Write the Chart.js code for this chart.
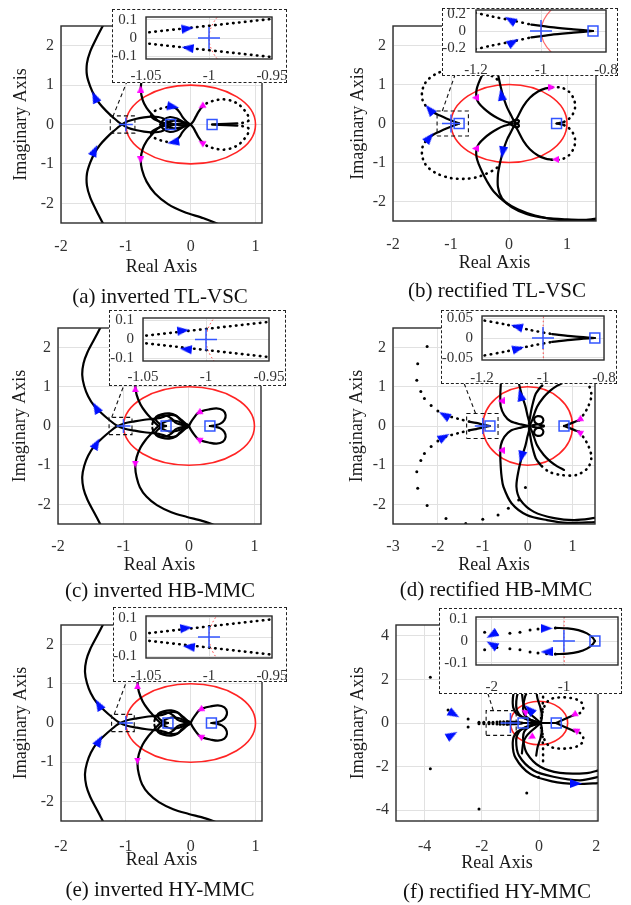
<!DOCTYPE html>
<html>
<head>
<meta charset="utf-8">
<title>Nyquist plots</title>
<script src="https://cdn.jsdelivr.net/npm/chart.js@4.4.1/dist/chart.umd.min.js"></script>
<style>
  html, body { margin: 0; padding: 0; background: #fff; }
  body { position: relative; width: 631px; height: 905px; overflow: hidden; font-family: 'Liberation Serif', 'Times New Roman', serif; }
  canvas { position: absolute; }
  .zoombox { position: absolute; box-sizing: border-box; background: #fff; border: 1px dashed #222; }
  .caption { position: absolute; font-size: 21px; line-height: 1; color: #111; white-space: nowrap; transform: translate(-50%, -50%); }
</style>
</head>
<body>
<script>
// Nyquist loci. Each curve is listed for one sign of frequency and is
// drawn together with its mirror image about the real axis.
const UNIT_RADIUS = 1;

// tick values
const realTicks = [-2, -1, 0, 1];
const realTicksWide = [-3, -2, -1, 0, 1];
const realTicksHY = [-4, -2, 0, 2];
const imagTicks = [-2, -1, 0, 1, 2];
const imagTicksHY = [-4, -2, 0, 2, 4];
const zoomRealNarrow = [-1.05, -1, -0.95];
const zoomRealWide = [-1.2, -1, -0.8];
const zoomRealHY = [-2, -1];
const zoomImag01 = [-0.1, 0, 0.1];
const zoomImag02 = [-0.2, 0, 0.2];
const zoomImag005 = [-0.05, 0, 0.05];

// ---- (a) inverted TL-VSC ----
const aOuter = [[-1.34,2.55],[-1.45,2.2],[-1.55,1.85],[-1.6,1.55],[-1.6,1.25],[-1.55,0.97],[-1.48,0.72],[-1.4,0.52],[-1.3,0.34],[-1.19,0.17],[-1.08,0.02],[-0.97,-0.08],[-0.85,-0.14],[-0.72,-0.18],[-0.6,-0.2],[-0.5,-0.19],[-0.42,-0.15],[-0.36,-0.08],[-0.28,-0.02],[-0.15,0.02],[-0.05,0.01],[0,0]];
const aMagenta = [[0.46,-2.55],[0.2,-2.38],[-0.1,-2.22],[-0.35,-2.02],[-0.55,-1.75],[-0.68,-1.45],[-0.75,-1.15],[-0.77,-0.88],[-0.74,-0.62],[-0.68,-0.42],[-0.6,-0.26],[-0.52,-0.12],[-0.44,-0.02],[-0.36,0.06],[-0.26,0.1],[-0.16,0.08],[-0.07,0.03],[0,0]];
const aLoopIn = [[-0.31,0],[-0.42,0.04],[-0.52,0.1],[-0.59,0.17],[-0.61,0.23]];
const aLoopDots = [[-0.61,0.23],[-0.58,0.31],[-0.52,0.37],[-0.45,0.41],[-0.37,0.44],[-0.29,0.45]];
const aLoopOut = [[-0.29,0.45],[-0.22,0.4],[-0.17,0.31],[-0.13,0.2],[-0.08,0.1],[-0.03,0.03],[0,0]];
const aKnot = [[-0.47,0],[-0.42,0.12],[-0.32,0.19],[-0.21,0.15],[-0.12,0.07],[-0.05,0.02],[0,0]];
const aRightIn = [[0,0],[0.04,0.08],[0.08,0.2],[0.12,0.32],[0.17,0.44]];
const aRightDots = [[0.17,0.44],[0.26,0.55],[0.37,0.61],[0.5,0.64],[0.63,0.6],[0.74,0.51],[0.82,0.38],[0.88,0.24],[0.9,0.12],[0.86,0.06],[0.79,0.04],[0.72,0.03]];
const aRightOut = [[0.72,0.03],[0.55,0.015],[0.33,0]];
const aSquares = [[-0.31,0],[0.33,0]];
const aBlue = [[-1.48,0.7],[-1.48,-0.66],[-0.27,0.45],[-0.27,-0.45]];
const aBlueTurn = [335, 25, 100, 260];
const aPink = [[-0.77,0.9],[-0.77,-0.9],[0.17,0.46],[0.17,-0.46]];
const aPinkTurn = [0, 180, 240, 300];
const aZoomBox = [[-1.24,-0.22],[-0.86,0.22]];
const aLeader = [[-1.2,0.2],[-0.98,1.1]];
const aInsetLine = [[-1.052,0.028],[-0.948,0.106]];
const aInsetBlue = [[-1.017,0.052],[-1.017,-0.054]];
const aInsetTurn = [83, 277];

// ---- (b) rectified TL-VSC ----
const bLeftIn = [[-0.86,0],[-0.95,0.05],[-1.08,0.13],[-1.2,0.21],[-1.3,0.28],[-1.37,0.35]];
const bLeftDots = [[-1.37,0.35],[-1.44,0.46],[-1.49,0.6],[-1.5,0.8],[-1.46,1.0],[-1.38,1.15],[-1.22,1.3],[-1.0,1.4],[-0.78,1.42],[-0.56,1.38],[-0.38,1.28],[-0.25,1.18],[-0.18,1.1]];
const bLobe = [[0.06,0],[-0.08,-0.06],[-0.2,-0.14],[-0.32,-0.25],[-0.43,-0.38],[-0.52,-0.52],[-0.56,-0.66],[-0.56,-0.86],[-0.52,-1.05],[-0.46,-1.25],[-0.38,-1.48],[-0.26,-1.75],[-0.08,-2.0],[0.15,-2.2],[0.45,-2.36],[0.8,-2.46],[1.15,-2.5],[1.55,-2.46]];
const bStem = [[0.1,-0.02],[0.04,-0.2],[-0.03,-0.4],[-0.08,-0.6],[-0.12,-0.8],[-0.16,-1.05],[-0.19,-1.3],[-0.19,-1.63],[-0.12,-1.92],[0.05,-2.15],[0.3,-2.32],[0.62,-2.42],[1.0,-2.46],[1.3,-2.47],[1.55,-2.43]];
const bRightIn = [[0.1,0.03],[0.16,0.2],[0.25,0.45],[0.36,0.66],[0.5,0.82],[0.63,0.9],[0.74,0.93]];
const bRightDots = [[0.74,0.93],[0.9,0.92],[1.03,0.82],[1.12,0.62],[1.14,0.42],[1.1,0.24],[1.02,0.1],[0.95,0.04]];
const bRightOut = [[0.95,0.04],[0.88,0.015],[0.82,0]];
const bKnot = [[0,0],[0.06,0.05],[0.12,0.1],[0.17,0.07],[0.16,0.02],[0.1,0]];
const bSquares = [[-0.86,0],[0.82,0]];
const bBlue = [[-1.37,0.36],[-1.37,-0.36],[-0.13,0.74],[-0.11,-0.74]];
const bBlueTurn = [320, 40, 350, 190];
const bPink = [[-0.58,0.66],[-0.58,-0.64],[0.74,0.93],[0.8,-0.92]];
const bPinkTurn = [270, 270, 90, 270];
const bZoomBox = [[-1.24,-0.32],[-0.7,0.32]];
const bLeader = [[-1.15,0.32],[-0.93,1.25]];
const bInsetDots = [[-1.22,0.23],[-1.15,0.17],[-1.09,0.125],[-1.03,0.075]];
const bInsetLine = [[-1.03,0.075],[-0.97,0.045],[-0.9,0.02],[-0.84,0]];
const bInsetBlue = [[-1.095,0.13],[-1.085,-0.13]];
const bInsetTurn = [300, 60];
const bInsetSquare = [[-0.84,0]];

// ---- (c) inverted HB-MMC, also used for (e) inverted HY-MMC ----
const cOuter = [[-1.34,2.55],[-1.45,2.2],[-1.55,1.88],[-1.61,1.6],[-1.63,1.3],[-1.6,1.02],[-1.54,0.76],[-1.45,0.52],[-1.33,0.32],[-1.22,0.16],[-1.11,0.02],[-0.98,-0.07],[-0.83,-0.12],[-0.68,-0.16],[-0.56,-0.18],[-0.46,-0.2],[-0.38,-0.24],[-0.3,-0.28],[-0.2,-0.26],[-0.12,-0.16],[-0.05,-0.06],[0,0]];
const cMagenta = [[0.43,-2.55],[0.2,-2.42],[-0.03,-2.32],[-0.27,-2.2],[-0.49,-2.02],[-0.65,-1.8],[-0.75,-1.56],[-0.8,-1.3],[-0.82,-1.05],[-0.8,-0.8],[-0.74,-0.55],[-0.66,-0.35],[-0.57,-0.18],[-0.5,-0.05],[-0.42,0.06],[-0.3,0.14],[-0.18,0.12],[-0.08,0.05],[0,0]];
const cLoop = [[-0.35,0],[-0.44,0.05],[-0.5,0.14],[-0.5,0.24],[-0.42,0.3],[-0.3,0.32],[-0.2,0.27],[-0.14,0.17],[-0.08,0.08],[0,0.02]];
const cLoop2 = [[-0.56,0.05],[-0.53,0.18],[-0.44,0.26],[-0.34,0.26],[-0.26,0.18],[-0.2,0.08],[-0.1,0.03],[0,0]];
const cRight = [[0,0],[0.03,0.1],[0.08,0.22],[0.13,0.32],[0.2,0.38],[0.3,0.42],[0.42,0.45],[0.52,0.4],[0.56,0.28],[0.54,0.15],[0.48,0.06],[0.4,0.02],[0.32,0]];
const cSquares = [[-0.35,0],[0.32,0]];
const cBlue = [[-1.42,0.47],[-1.41,-0.45]];
const cBlueTurn = [330, 30];
const cPink = [[-0.82,0.95],[-0.82,-0.97],[0.15,0.34],[0.15,-0.34]];
const cPinkTurn = [0, 180, 240, 300];
const cZoomBox = [[-1.22,-0.22],[-0.87,0.22]];
const cLeader = [[-1.18,0.22],[-0.98,1.1]];
const cInsetLine = [[-1.052,0.017],[-0.948,0.094]];
const cInsetBlue = [[-1.018,0.047],[-1.016,-0.051]];
const cInsetTurn = [84, 276];

// ---- (d) rectified HB-MMC ----
const dLeftIn = [[-0.84,0],[-1.0,0.04],[-1.15,0.08],[-1.3,0.11]];
const dLeftDots = [[-1.3,0.11],[-1.5,0.17],[-1.7,0.23],[-1.9,0.3]];
const dOuter = [[-2.0,-0.38],[-2.15,-0.52],[-2.3,-0.7],[-2.38,-0.88],[-2.47,-1.17],[-2.45,-1.59],[-2.24,-2.03],[-1.82,-2.36],[-1.38,-2.49],[-1.0,-2.38],[-0.66,-2.27],[-0.43,-2.1],[-0.2,-1.89],[-0.05,-1.57]];
const dLobe = [[0.04,0],[-0.15,-0.04],[-0.38,-0.12],[-0.52,-0.28],[-0.6,-0.5],[-0.61,-0.75],[-0.6,-1.04],[-0.58,-1.3],[-0.54,-1.55],[-0.36,-1.97],[-0.02,-2.27],[0.43,-2.4],[0.88,-2.47],[1.55,-2.45]];
const dStem = [[0.06,-0.02],[0,-0.25],[-0.05,-0.5],[-0.12,-0.75],[-0.2,-1.12],[-0.25,-1.55],[-0.16,-1.89],[0.14,-2.19],[0.59,-2.35],[1.04,-2.4],[1.55,-2.34]];
const dRightIn = [[0.81,0],[0.95,0.06],[1.08,0.12],[1.15,0.15]];
const dRightDots = [[1.15,0.15],[1.25,0.3],[1.35,0.5],[1.42,0.79],[1.34,1.07],[1.09,1.25],[0.75,1.25],[0.48,1.17],[0.29,1.0]];
const dRightOut = [[0.29,1.0],[0.18,0.82],[0.12,0.6],[0.08,0.4],[0.05,0.2],[0.03,0.05]];
const dArc = [[0.05,0.02],[0.1,0.15],[0.21,0.49],[0.36,0.74],[0.51,0.91],[0.66,1.03],[0.81,1.12]];
const dKnot = [[0.1,0.02],[0.2,0.04],[0.3,0.06],[0.35,0.14],[0.31,0.23],[0.22,0.25],[0.15,0.2],[0.16,0.1],[0.24,0.04],[0.36,0.01]];
const dSquares = [[-0.84,0],[0.81,0]];
const dBlue = [[-1.86,0.28],[-1.86,-0.28],[-0.16,0.79],[-0.14,-0.79]];
const dBlueTurn = [300, 60, 345, 195];
const dPink = [[-0.59,0.64],[-0.59,-0.62],[1.15,0.16],[1.15,-0.16]];
const dPinkTurn = [270, 270, 240, 300];
const dZoomBox = [[-1.36,-0.32],[-0.66,0.32]];
const dLeader = [[-1.16,0.32],[-1.42,1.1]];
const dInsetDots = [[-1.21,0.047],[-1.12,0.034],[-1.04,0.02],[-0.97,0.01]];
const dInsetLine = [[-0.97,0.01],[-0.9,0.004],[-0.83,0]];
const dInsetBlue = [[-1.086,0.029],[-1.081,-0.027]];
const dInsetTurn = [285, 75];
const dInsetSquare = [[-0.83,0]];

// ---- (f) rectified HY-MMC ----
const fNearDots = [[-2.1,0.04],[-1.93,0.03],[-1.75,0.035],[-1.61,0.04],[-1.47,0.05],[-1.36,0.055],[-1.24,0.058],[-1.12,0.06]];
const fNearLine = [[-1.12,0.06],[-0.95,0.058],[-0.8,0.05],[-0.68,0.035],[-0.6,0.015],[-0.57,0]];
const fFar = [[-2.48,0.18],[-3.18,0.6],[-3.8,2.1],[-2.1,3.95],[-0.43,3.22],[-0.02,2.49]];
const fColumn = [[0.1,0.35],[0.12,0.6],[0.13,0.9],[0.14,1.2],[0.14,1.5],[0.14,1.85]];
const fArc1 = [[0.05,0],[-0.3,-0.15],[-0.52,-0.4],[-0.55,-0.8],[-0.43,-1.38],[0.03,-2.0],[0.73,-2.29],[1.67,-2.3],[2.15,-2.15]];
const fArc2 = [[0.05,0],[-0.4,-0.15],[-0.7,-0.4],[-0.8,-0.8],[-0.7,-1.5],[-0.2,-2.17],[0.5,-2.47],[1.43,-2.63],[2.15,-2.45]];
const fArc3 = [[0.05,0],[-0.45,-0.2],[-0.8,-0.45],[-0.92,-0.9],[-0.82,-1.6],[-0.3,-2.35],[0.45,-2.68],[1.3,-2.8],[2.15,-2.75]];
const fRightIn = [[0.6,0],[0.9,0.18],[1.22,0.37]];
const fRightDots = [[1.22,0.37],[1.42,0.45],[1.54,0.65],[1.52,0.88],[1.35,1.06],[1.1,1.15],[0.85,1.18],[0.6,1.16],[0.38,1.08],[0.22,0.85],[0.12,0.5],[0.07,0.2]];
const fSpoke1 = [[0.06,0],[-0.1,0.18],[-0.3,0.4],[-0.45,0.62],[-0.55,0.9],[-0.6,1.4]];
const fSpoke2 = [[0.06,0],[0.1,0.3],[0.05,0.7],[-0.05,1.1],[-0.1,1.5]];
const fAxis = [[-0.56,0],[0.1,0],[0.6,0]];
const fSquares = [[-0.56,0],[0.6,0]];
const fBlue = [[-2.97,0.4],[-3.04,-0.55],[-0.34,0.62],[1.29,-2.78]];
const fBlueTurn = [120, 60, 315, 90];
const fPink = [[-0.51,0.52],[-0.28,-0.65],[1.22,0.38],[1.28,-0.33]];
const fPinkTurn = [300, 240, 240, 300];
const fZoomBox = [[-1.85,-0.57],[-0.8,0.57]];
const fLeader = [[-1.6,0.57],[-1.8,1.4]];
const fInsetBlue = [[-2.0,0.028],[-2.0,-0.016],[-1.24,0.058],[-1.24,-0.05]];
const fInsetTurn = [240, 300, 90, 270];
const fInsetSquare = [[-0.57,0]];

const criticalPoint = [[-1, 0]];

// ---------------------------------------------------------------
const SERIF = "'Liberation Serif', 'Times New Roman', serif";
const MARK_BLUE = '#3355ff';

function arrowHead(color, w, h) {
  const c = document.createElement('canvas');
  c.width = w; c.height = h;
  const g = c.getContext('2d');
  g.fillStyle = color;
  g.beginPath();
  g.moveTo(w / 2, 0); g.lineTo(w, h); g.lineTo(0, h);
  g.closePath(); g.fill();
  return c;
}
const blueHead = arrowHead('#0010ff', 9, 12);
const pinkHead = arrowHead('#ff00ff', 7, 7);

const asPts = arr => arr.map(([x, y]) => ({ x, y }));
const mirrored = arr => arr.map(([x, y]) => ({ x, y: -y }));
const fmt = v => String(Math.round(v * 1000) / 1000);

function trace(arr, dotted) {
  return [asPts(arr), mirrored(arr)].map(data => ({
    data, showLine: true, tension: 0.3, order: 3,
    borderColor: '#000', borderWidth: dotted ? 2.6 : 2.2,
    borderDash: dotted ? [0.5, 5.5] : [], borderCapStyle: 'round', borderJoinStyle: 'round',
    pointRadius: 0
  }));
}
function specks(arr) {
  return [asPts(arr), mirrored(arr)].map(data => ({
    data, showLine: false, order: 3,
    pointRadius: 1.5, pointBackgroundColor: '#000', pointBorderWidth: 0
  }));
}
function heads(pts, turns, img) {
  return { data: asPts(pts), showLine: false, order: 0, pointStyle: img, pointRadius: 5, pointRotation: turns };
}
function marks(pts, style, r) {
  return {
    data: asPts(pts), showLine: false, order: 1, pointStyle: style, pointRadius: r,
    pointBorderColor: MARK_BLUE, pointBackgroundColor: 'rgba(0,0,0,0)', pointBorderWidth: 1.5
  };
}
function dashed(data) {
  return { data, showLine: true, order: 2, tension: 0, borderColor: '#111', borderWidth: 1.1, borderDash: [4, 3], pointRadius: 0 };
}
function outline([[x0, y0], [x1, y1]]) {
  return dashed([{ x: x0, y: y0 }, { x: x1, y: y0 }, { x: x1, y: y1 }, { x: x0, y: y1 }, { x: x0, y: y0 }]);
}

// unit circle through the scales
Chart.register({
  id: 'unitCircle',
  beforeDatasetsDraw(chart, args, opts) {
    if (!opts || !opts.color) return;
    const { ctx, chartArea: a, scales: { x, y } } = chart;
    const cx = x.getPixelForValue(0), cy = y.getPixelForValue(0);
    const rx = x.getPixelForValue(UNIT_RADIUS) - cx;
    const ry = cy - y.getPixelForValue(UNIT_RADIUS);
    ctx.save();
    ctx.beginPath(); ctx.rect(a.left, a.top, a.right - a.left, a.bottom - a.top); ctx.clip();
    ctx.beginPath(); ctx.ellipse(cx, cy, rx, ry, 0, 0, Math.PI * 2);
    ctx.strokeStyle = opts.color; ctx.lineWidth = opts.width; ctx.setLineDash(opts.dash || []);
    ctx.stroke();
    ctx.restore();
  }
});
// axes box
Chart.register({
  id: 'frame',
  afterDatasetsDraw(chart) {
    const { ctx, chartArea: a } = chart;
    ctx.save();
    ctx.strokeStyle = '#2b2b2b'; ctx.lineWidth = 1.4;
    ctx.strokeRect(a.left, a.top, a.right - a.left, a.bottom - a.top);
    ctx.restore();
  }
});

function axisChart(plot, o) {
  const P = o.pad;
  const cv = document.createElement('canvas');
  cv.width = plot.r - plot.l + o.yw + 2 * P;
  cv.height = plot.b - plot.t + o.xh + 2 * P;
  cv.style.left = (plot.l - o.yw - P) + 'px';
  cv.style.top = (plot.t - P) + 'px';
  document.body.appendChild(cv);
  const title = text => text
    ? { display: true, text, color: '#1a1a1a', font: { family: SERIF, size: 18 }, padding: 0 }
    : { display: false };
  const axis = (range, ticks, pad, fit, label) => ({
    type: 'linear', min: range[0], max: range[1],
    afterBuildTicks: s => { s.ticks = ticks.map(value => ({ value })); },
    afterFit: fit,
    grid: { color: '#e1e1e1', lineWidth: 1, drawTicks: false },
    border: { display: false },
    ticks: { padding: pad, color: '#333', font: { family: SERIF, size: o.size }, autoSkip: false, maxRotation: 0, callback: fmt },
    title: title(label)
  });
  new Chart(cv, {
    type: 'scatter',
    data: { datasets: o.datasets },
    options: {
      responsive: false, animation: false, devicePixelRatio: 1, events: [],
      layout: { padding: P },
      plugins: { legend: { display: false }, tooltip: { enabled: false }, unitCircle: o.circle },
      scales: {
        x: axis(o.x, o.xTicks, o.xPad, s => { s.height = o.xh; }, o.xLabel),
        y: axis(o.y, o.yTicks, o.yPad, s => { s.width = o.yw; }, o.yLabel)
      }
    }
  });
}

function drawPanel(p) {
  const sets = [];
  p.solid.forEach(c => sets.push(...trace(c, false)));
  p.dotted.forEach(c => sets.push(...trace(c, true)));
  (p.sparse || []).forEach(c => sets.push(...specks(c)));
  sets.push(heads(p.blue, p.blueTurn, blueHead));
  sets.push(heads(p.pink, p.pinkTurn, pinkHead));
  sets.push(marks(p.squares, 'rect', 7));
  sets.push(marks(criticalPoint, 'cross', p.crossR));
  sets.push(outline(p.zoomBox));
  sets.push(dashed(asPts(p.leader)));
  axisChart(p.plot, {
    pad: 20, yw: p.yw, xh: p.xh, x: p.x, y: p.y, xTicks: p.xTicks, yTicks: p.yTicks,
    xPad: p.xPad, yPad: 7, size: 16, xLabel: 'Real Axis', yLabel: 'Imaginary Axis',
    circle: { color: '#ff2424', width: 1.6 }, datasets: sets
  });

  const z = p.inset;
  const div = document.createElement('div');
  div.className = 'zoombox';
  Object.assign(div.style, {
    left: z.box.l + 'px', top: z.box.t + 'px',
    width: (z.box.r - z.box.l) + 'px', height: (z.box.b - z.box.t) + 'px'
  });
  document.body.appendChild(div);

  const zs = [];
  (z.solid || []).forEach(c => zs.push(...trace(c, false)));
  (z.dotted || []).forEach(c => zs.push(...trace(c, true)));
  (z.sparse || []).forEach(c => zs.push(...specks(c)));
  zs.push(heads(z.blue, z.blueTurn, blueHead));
  zs.push(marks(z.squares || [], 'rect', 7));
  zs.push(marks(criticalPoint, 'cross', 11));
  axisChart(z.plot, {
    pad: 26, yw: z.plot.l - z.box.l, xh: z.box.b - z.plot.b, x: z.x, y: z.y,
    xTicks: z.xTicks, yTicks: z.yTicks, xPad: z.xPad, yPad: z.yPad, size: 15,
    circle: z.circle, datasets: zs
  });

  const cap = document.createElement('div');
  cap.className = 'caption';
  cap.textContent = p.caption;
  cap.style.left = p.capX + 'px';
  cap.style.top = p.capY + 'px';
  document.body.appendChild(cap);
}

const dottedRed = { color: '#ff3030', width: 1, dash: [1.5, 2.5] };

const panels = [
  {
    plot: { l: 61, t: 26, r: 262, b: 223 }, yw: 51, xh: 55, xPad: 14,
    x: [-2, 1.1], y: [-2.5, 2.5], xTicks: realTicks, yTicks: imagTicks,
    solid: [aOuter, aMagenta, aLoopIn, aLoopOut, aKnot, aRightIn, aRightOut],
    dotted: [aLoopDots, aRightDots],
    blue: aBlue, blueTurn: aBlueTurn, pink: aPink, pinkTurn: aPinkTurn,
    squares: aSquares, crossR: 7, zoomBox: aZoomBox, leader: aLeader,
    inset: {
      box: { l: 112, t: 9, r: 287, b: 83 }, plot: { l: 146, t: 17, r: 272, b: 59 },
      x: [-1.05, -0.95], y: [-0.115, 0.115], xTicks: zoomRealNarrow, yTicks: zoomImag01,
      xPad: 8, yPad: 9, dotted: [aInsetLine], blue: aInsetBlue, blueTurn: aInsetTurn, circle: dottedRed
    },
    caption: '(a) inverted TL-VSC', capX: 160, capY: 296
  },
  {
    plot: { l: 393, t: 26, r: 596, b: 221 }, yw: 46, xh: 53, xPad: 14,
    x: [-2, 1.5], y: [-2.5, 2.5], xTicks: realTicks, yTicks: imagTicks,
    solid: [bLeftIn, bLobe, bStem, bRightIn, bRightOut, bKnot],
    dotted: [bLeftDots, bRightDots],
    blue: bBlue, blueTurn: bBlueTurn, pink: bPink, pinkTurn: bPinkTurn,
    squares: bSquares, crossR: 9, zoomBox: bZoomBox, leader: bLeader,
    inset: {
      box: { l: 442, t: 8, r: 618, b: 76 }, plot: { l: 476, t: 10, r: 606, b: 52 },
      x: [-1.2, -0.8], y: [-0.247, 0.247], xTicks: zoomRealWide, yTicks: zoomImag02,
      xPad: 9, yPad: 10, solid: [bInsetLine], dotted: [bInsetDots],
      blue: bInsetBlue, blueTurn: bInsetTurn, squares: bInsetSquare,
      circle: { color: 'rgba(255,70,70,0.8)', width: 1.2 }
    },
    caption: '(b) rectified TL-VSC', capX: 497, capY: 290
  },
  {
    plot: { l: 58, t: 328, r: 261, b: 524 }, yw: 49, xh: 52, xPad: 13,
    x: [-2, 1.1], y: [-2.5, 2.5], xTicks: realTicks, yTicks: imagTicks,
    solid: [cOuter, cMagenta, cLoop, cLoop2, cRight], dotted: [],
    blue: cBlue, blueTurn: cBlueTurn, pink: cPink, pinkTurn: cPinkTurn,
    squares: cSquares, crossR: 7, zoomBox: cZoomBox, leader: cLeader,
    inset: {
      box: { l: 109, t: 310, r: 286, b: 386 }, plot: { l: 143, t: 318, r: 269, b: 361 },
      x: [-1.05, -0.95], y: [-0.113, 0.113], xTicks: zoomRealNarrow, yTicks: zoomImag01,
      xPad: 7, yPad: 9, dotted: [cInsetLine], blue: cInsetBlue, blueTurn: cInsetTurn, circle: dottedRed
    },
    caption: '(c) inverted HB-MMC', capX: 160, capY: 590
  },
  {
    plot: { l: 393, t: 328, r: 595, b: 524 }, yw: 47, xh: 52, xPad: 13,
    x: [-3, 1.5], y: [-2.5, 2.5], xTicks: realTicksWide, yTicks: imagTicks,
    solid: [dLeftIn, dLobe, dStem, dRightIn, dRightOut, dArc, dKnot],
    dotted: [dLeftDots, dRightDots], sparse: [dOuter],
    blue: dBlue, blueTurn: dBlueTurn, pink: dPink, pinkTurn: dPinkTurn,
    squares: dSquares, crossR: 8, zoomBox: dZoomBox, leader: dLeader,
    inset: {
      box: { l: 441, t: 310, r: 617, b: 384 }, plot: { l: 482, t: 316, r: 604, b: 360 },
      x: [-1.2, -0.8], y: [-0.056, 0.056], xTicks: zoomRealWide, yTicks: zoomImag005,
      xPad: 9, yPad: 9, solid: [dInsetLine], dotted: [dInsetDots],
      blue: dInsetBlue, blueTurn: dInsetTurn, squares: dInsetSquare, circle: dottedRed
    },
    caption: '(d) rectified HB-MMC', capX: 496, capY: 589
  },
  {
    plot: { l: 61, t: 625, r: 262, b: 821 }, yw: 51, xh: 50, xPad: 16,
    x: [-2, 1.1], y: [-2.5, 2.5], xTicks: realTicks, yTicks: imagTicks,
    solid: [cOuter, cMagenta, cLoop, cLoop2, cRight], dotted: [],
    blue: cBlue, blueTurn: cBlueTurn, pink: cPink, pinkTurn: cPinkTurn,
    squares: cSquares, crossR: 7, zoomBox: cZoomBox, leader: cLeader,
    inset: {
      box: { l: 113, t: 607, r: 287, b: 682 }, plot: { l: 146, t: 616, r: 272, b: 658 },
      x: [-1.05, -0.95], y: [-0.11, 0.11], xTicks: zoomRealNarrow, yTicks: zoomImag01,
      xPad: 9, yPad: 9, dotted: [cInsetLine], blue: cInsetBlue, blueTurn: cInsetTurn, circle: dottedRed
    },
    caption: '(e) inverted HY-MMC', capX: 160, capY: 889
  },
  {
    plot: { l: 396, t: 625, r: 598, b: 821 }, yw: 49, xh: 53, xPad: 16,
    x: [-5, 2.06], y: [-4.5, 4.5], xTicks: realTicksHY, yTicks: imagTicksHY,
    solid: [fNearLine, fArc1, fArc2, fArc3, fRightIn, fSpoke1, fSpoke2, fAxis],
    dotted: [fRightDots, fColumn], sparse: [fNearDots, fFar],
    blue: fBlue, blueTurn: fBlueTurn, pink: fPink, pinkTurn: fPinkTurn,
    squares: fSquares, crossR: 10, zoomBox: fZoomBox, leader: fLeader,
    inset: {
      box: { l: 439, t: 608, r: 622, b: 694 }, plot: { l: 476, t: 617, r: 618, b: 665 },
      x: [-2.22, -0.25], y: [-0.11, 0.11], xTicks: zoomRealHY, yTicks: zoomImag01,
      xPad: 13, yPad: 8, solid: [fNearLine], sparse: [fNearDots],
      blue: fInsetBlue, blueTurn: fInsetTurn, squares: fInsetSquare, circle: dottedRed
    },
    caption: '(f) rectified HY-MMC', capX: 497, capY: 891
  }
];

panels.forEach(drawPanel);
</script>
</body>
</html>
